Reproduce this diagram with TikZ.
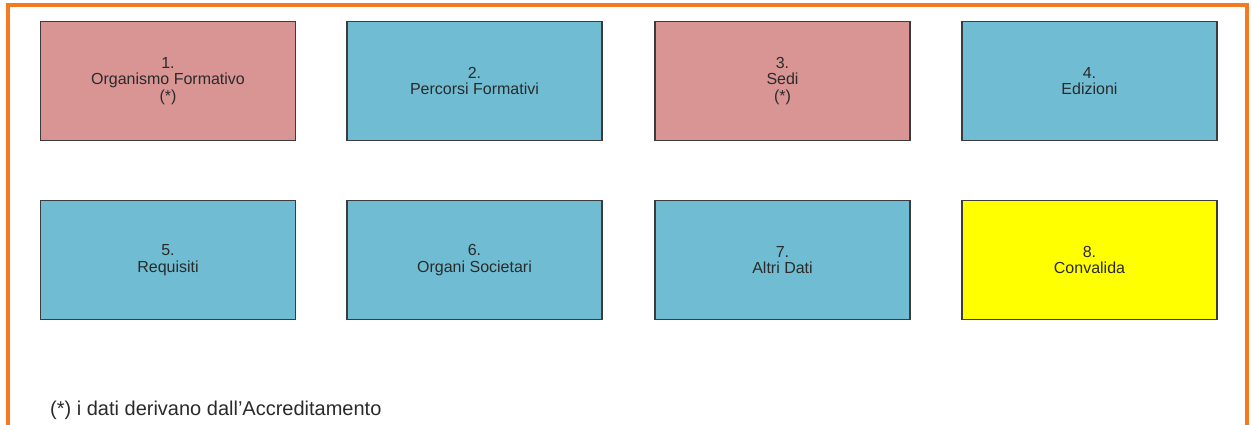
\documentclass[tikz,border=0pt]{standalone}
\usepackage{fontspec}
\setmainfont{Liberation Sans}
\usetikzlibrary{positioning}

\definecolor{framec}{HTML}{F37A1F}
\definecolor{pinkc}{HTML}{D99594}
\definecolor{bluec}{HTML}{70BDD3}
\definecolor{yellowc}{HTML}{FFFF00}
\definecolor{edgec}{HTML}{3C3C3C}
\definecolor{txtc}{HTML}{2A2A2A}

\begin{document}
\begin{tikzpicture}[x=1pt, y=-1pt,
  stepbox/.style={draw=edgec, line width=1.3pt, minimum width=255pt,
    minimum height=119pt, align=center, text=txtc, inner sep=0pt,
    font=\fontsize{16}{16.5}\selectfont},
  pinkbox/.style={stepbox, fill=pinkc},
  bluebox/.style={stepbox, fill=bluec},
  yellowbox/.style={stepbox, fill=yellowc}]

\useasboundingbox (0,0) rectangle (1252,425);

% orange frame, open at the bottom
\draw[framec, line width=4.5pt] (8,425) -- (8,5) -- (1247,5) -- (1247,425);

% first row
\node[pinkbox]   (ORG)   at (168,81)    {1.\\Organismo Formativo\\(*)};
\node[bluebox]   (PERC)  at (474.5,81)  {2.\\Percorsi Formativi};
\node[pinkbox]   (SEDI)  at (782.5,81)  {3.\\Sedi\\(*)};
\node[bluebox]   (EDIZ)  at (1089.5,81) {4.\\Edizioni};

% second row
\node[bluebox]   (REQ)   at (168,260)    {5.\\Requisiti};
\node[bluebox]   (ORGS)  at (474.5,260)  {6.\\Organi Societari};
\node[bluebox]   (ALTRI) at (782.5,260)  {7.\\Altri Dati};
\node[yellowbox] (CONV)  at (1089.5,260) {8.\\Convalida};

\node[anchor=west, inner sep=0pt, text=txtc,
  font=\fontsize{20}{22}\selectfont] (NOTA) at (50,410)
  {(*) i dati derivano dall'Accreditamento};

\end{tikzpicture}
\end{document}
